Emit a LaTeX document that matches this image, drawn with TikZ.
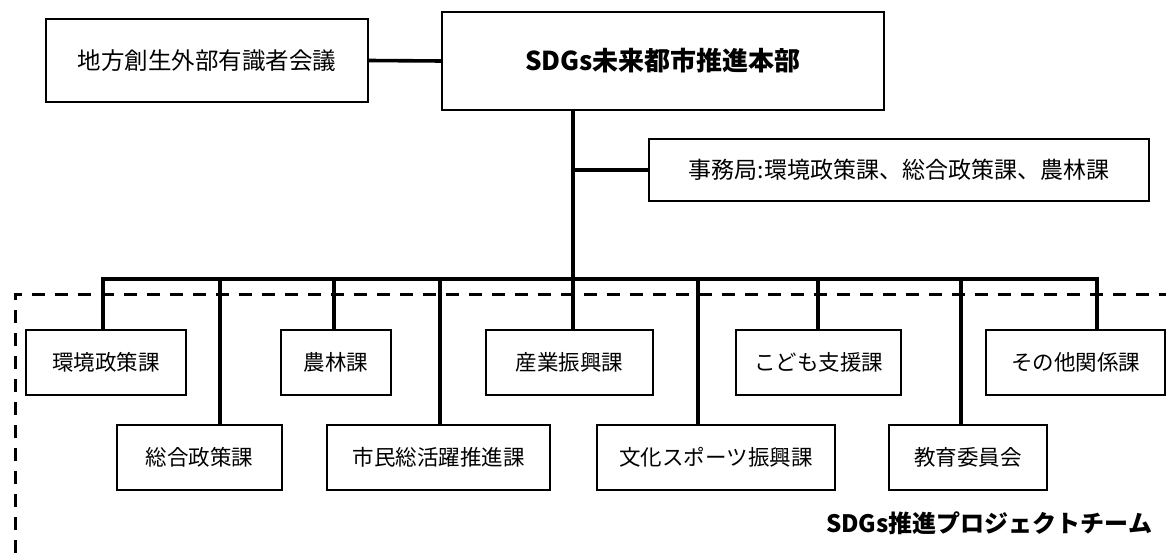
\documentclass[tikz,border=0pt]{standalone}
\usepackage{fontspec}
\setmainfont{Noto Sans CJK JP}
\begin{document}
\begin{tikzpicture}[x=1pt,y=-1pt,
  box/.style={draw=black,line width=2pt,fill=white,inner sep=0pt,outer sep=0pt,minimum height=65pt,font=\fontsize{21.5}{24}\selectfont},
  conn/.style={line width=3.6pt},
  teamline/.style={line width=3pt,dash pattern=on 13pt off 10pt}]
\useasboundingbox[fill=white] (0,0) rectangle (1166,553);
% dashed team frame
\coordinate (fa) at (15,553);
\coordinate (fb) at (15,294);
\coordinate (fc) at (1170,294);
\draw[teamline] (fa) -- (fb) -- (fc);
% top level
\node[box,minimum width=322pt,minimum height=83pt,font=\fontsize{23.5}{26}\selectfont] (ext) at (207,60.5) {地方創生外部有識者会議};
\node[box,minimum width=442pt,minimum height=98pt,font=\fontsize{26}{30}\selectfont\bfseries] (hq) at (663,61) {SDGs未来都市推進本部};
\node[box,minimum width=500pt,minimum height=62pt,font=\fontsize{23}{26}\selectfont] (office) at (899,170) {事務局:環境政策課、総合政策課、農林課};
% upper row
\node[box,minimum width=160pt] (kankyo) at (106,362.5) {環境政策課};
\node[box,minimum width=110pt] (norin) at (336,362.5) {農林課};
\node[box,minimum width=167pt] (sangyo) at (569.5,362.5) {産業振興課};
\node[box,minimum width=165pt] (kodomo) at (818.5,362.5) {こども支援課};
\node[box,minimum width=179pt] (sonota) at (1075.5,362.5) {その他関係課};
% lower row
\node[box,minimum width=165pt] (sogo) at (199.5,457.5) {総合政策課};
\node[box,minimum width=223pt] (shimin) at (438.5,457.5) {市民総活躍推進課};
\node[box,minimum width=238pt] (bunka) at (716,457.5) {文化スポーツ振興課};
\node[box,minimum width=158pt] (kyoiku) at (968,457.5) {教育委員会};
% team label
\node[font=\fontsize{24}{27}\selectfont\bfseries,inner sep=0pt] (team) at (989,523) {SDGs推進プロジェクトチーム};
% connectors
\draw[conn] (ext.east) -- (hq.west);
\coordinate (t) at (573,279);
\draw[conn] (t |- hq.south) -- (t) -- (t |- sangyo.north);
\draw[conn] (t |- office.west) -- (office.west);
\coordinate (b1) at (103,279);
\coordinate (b2) at (220,279);
\coordinate (b3) at (334,279);
\coordinate (b4) at (440,279);
\coordinate (b6) at (698,279);
\coordinate (b7) at (818,279);
\coordinate (b8) at (961,279);
\coordinate (b9) at (1097,279);
\draw[conn,line cap=rect] (b1) -- (b9);
\draw[conn] (b1) -- (b1 |- kankyo.north);
\draw[conn] (b2) -- (b2 |- sogo.north);
\draw[conn] (b3) -- (b3 |- norin.north);
\draw[conn] (b4) -- (b4 |- shimin.north);
\draw[conn] (b6) -- (b6 |- bunka.north);
\draw[conn] (b7) -- (b7 |- kodomo.north);
\draw[conn] (b8) -- (b8 |- kyoiku.north);
\draw[conn] (b9) -- (b9 |- sonota.north);
\end{tikzpicture}
\end{document}
